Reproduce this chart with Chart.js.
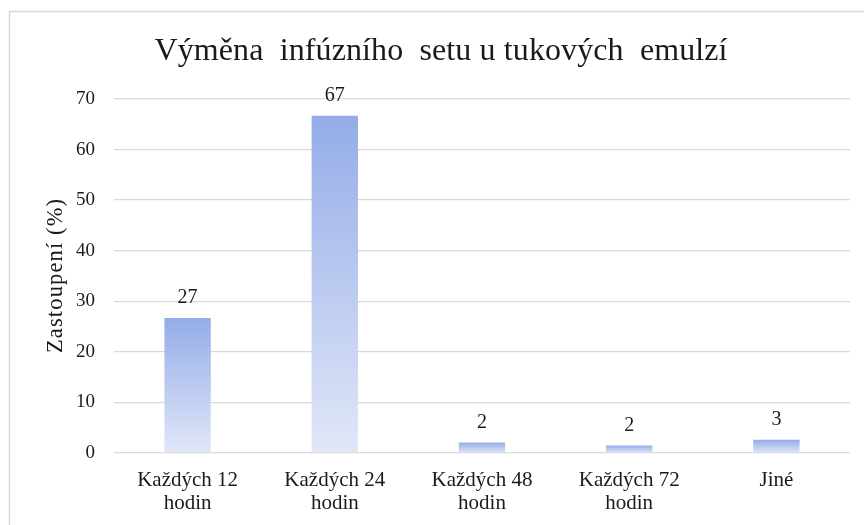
<!DOCTYPE html>
<html>
<head>
<meta charset="utf-8">
<script src="https://cdn.jsdelivr.net/npm/chart.js@4"></script>
<style>
html,body{margin:0;padding:0;background:#fff;}
#wrap{width:864px;height:525px;position:relative;}
</style>
</head>
<body>
<div id="wrap"><canvas id="c" width="864" height="525"></canvas></div>
<script>
const categories = [["Každých 12","hodin"],["Každých 24","hodin"],["Každých 48","hodin"],["Každých 72","hodin"],"Jiné"];
const values = [26.7, 66.7, 2.1, 1.5, 2.6];
const yTicks = [0,10,20,30,40,50,60,70];
const chartTitle = "Výměna  infúzního  setu u tukových  emulzí";
const yTitle = "Zastoupení (%)";

const FONT = "'Liberation Serif','Times New Roman',serif";

function spacedText(ctx, text, x, y, targetWidth){
  ctx.letterSpacing = '0px';
  const w = ctx.measureText(text).width;
  const n = [...text].length;
  const sp = Math.max(0, (targetWidth - w) / (n - 1));
  ctx.letterSpacing = sp + 'px';
  const w2 = ctx.measureText(text).width - sp;
  ctx.textAlign = 'left';
  ctx.fillText(text, x - w2/2, y);
  ctx.letterSpacing = '0px';
}

const frame = {
  id:'frame',
  beforeDraw(chart){
    const ctx = chart.ctx;
    ctx.save();
    ctx.fillStyle='#fff';
    ctx.fillRect(0,0,chart.width,chart.height);
    ctx.strokeStyle='#d9d9d9';
    ctx.lineWidth=1.5;
    ctx.strokeRect(9.5,11.5,1000,1000);
    ctx.restore();
  },
  afterDraw(chart){
    const ctx = chart.ctx;
    ctx.save();
    ctx.fillStyle='#1a1a1a';
    ctx.textBaseline='alphabetic';
    ctx.font = "32px " + FONT;
    spacedText(ctx, chartTitle, 441, 60, 573);
    const ca = chart.chartArea;
    ctx.translate(62, (ca.top + ca.bottom)/2);
    ctx.rotate(-Math.PI/2);
    ctx.font = "22.5px " + FONT;
    spacedText(ctx, yTitle, 0, 0, 154);
    ctx.restore();
  }
};

const labelsPlugin = {
  id:'vals',
  afterDatasetsDraw(chart){
    const ctx = chart.ctx;
    const meta = chart.getDatasetMeta(0);
    ctx.save();
    ctx.font = "20px " + FONT;
    ctx.fillStyle = '#1a1a1a';
    ctx.textAlign='center';
    ctx.textBaseline='alphabetic';
    meta.data.forEach((bar,i)=>{
      ctx.fillText(String(Math.round(values[i])), bar.x, bar.y - 14.5);
    });
    ctx.restore();
  }
};

new Chart(document.getElementById('c'), {
  type:'bar',
  data:{
    labels: categories,
    datasets:[{
      data: values,
      backgroundColor(ctx){
        const chart = ctx.chart;
        const y = chart.scales && chart.scales.y;
        if(!chart.chartArea || !y || ctx.raw === undefined) return '#b3c3ef';
        const top = y.getPixelForValue(ctx.raw);
        const bottom = y.getPixelForValue(0);
        if(!isFinite(top) || !isFinite(bottom) || bottom - top < 0.5) return '#b3c3ef';
        const g = chart.ctx.createLinearGradient(0, top, 0, bottom);
        g.addColorStop(0,'#94ace8');
        g.addColorStop(1,'#e1e7f8');
        return g;
      },
      borderWidth:0,
      categoryPercentage:1,
      barPercentage:0.315
    }]
  },
  options:{
    responsive:false,
    animation:false,
    devicePixelRatio:1,
    layout:{padding:{left:0,right:14,top:99,bottom:0}},
    plugins:{
      legend:{display:false},
      tooltip:{enabled:false},
      title:{display:false}
    },
    scales:{
      x:{
        grid:{display:false},
        border:{display:false},
        ticks:{
          color:'#1a1a1a',
          font:{family:FONT,size:21,lineHeight:1.1},
          padding:8,
          maxRotation:0,autoSkip:false
        },
        afterFit(s){ s.height = 72; }
      },
      y:{
        min:0,max:70,
        afterBuildTicks(s){ s.ticks = yTicks.map(v=>({value:v})); },
        grid:{color:'#d9d9d9',lineWidth:1.3,drawTicks:false},
        border:{display:false},
        ticks:{
          color:'#1a1a1a',
          font:{family:FONT,size:19},
          padding:19
        },
        afterFit(s){ s.width = 114; }
      }
    }
  },
  plugins:[frame,labelsPlugin]
});
</script>
</body>
</html>
